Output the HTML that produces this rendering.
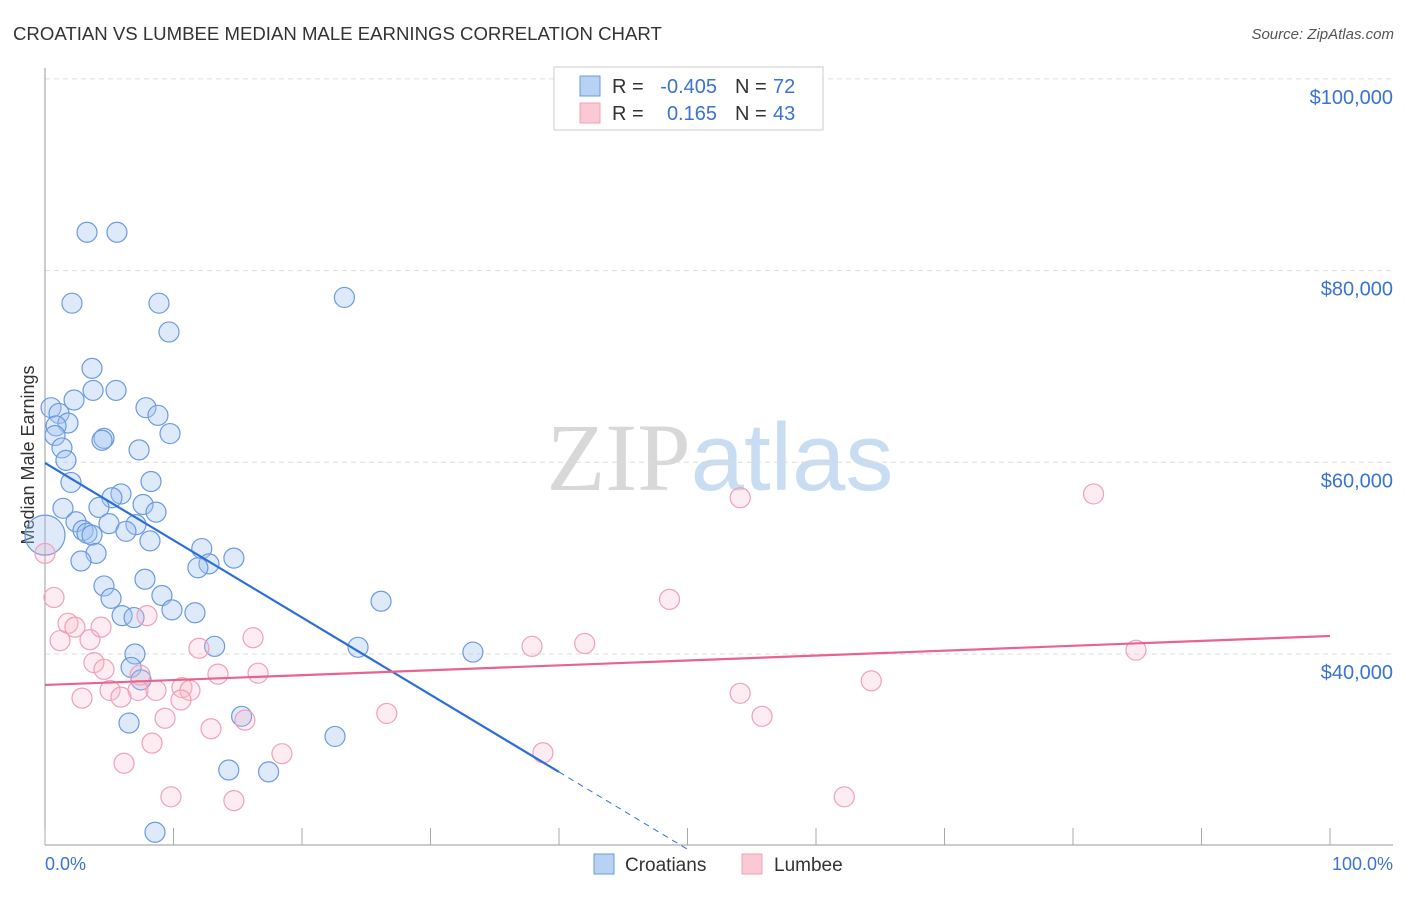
<!DOCTYPE html>
<html><head><meta charset="utf-8"><style>
body{margin:0;background:#fff;font-family:"Liberation Sans",sans-serif}
svg text{font-family:"Liberation Sans",sans-serif}
</style></head><body>
<svg id="chart" width="1406" height="892" xmlns="http://www.w3.org/2000/svg">
<text x="13" y="40" font-size="18.6" fill="#333">CROATIAN VS LUMBEE MEDIAN MALE EARNINGS CORRELATION CHART</text>
<text x="1394" y="39" font-size="15" fill="#555" text-anchor="end" font-style="italic">Source: ZipAtlas.com</text>
<text x="720" y="490" font-size="96" text-anchor="middle"><tspan fill="#d8d8d8" font-family="Liberation Serif">ZIP</tspan><tspan fill="#c8dcf2">atlas</tspan></text>
<text transform="translate(34,455) rotate(-90)" font-size="18" fill="#333" text-anchor="middle">Median Male Earnings</text>
<g id="grid"></g><g id="axes"></g><g id="pts"></g><g id="trends"></g>
<g>
<rect x="554" y="67" width="269" height="63" fill="#fff" stroke="#ccc"/>
<rect x="580" y="76" width="20" height="20" fill="#b8d2f4" stroke="#6a9ae0"/>
<rect x="580" y="103" width="20" height="20" fill="#fbc8d6" stroke="#f0a0b8"/>
<text x="612" y="93" font-size="20" fill="#333">R =</text>
<text x="717" y="93" font-size="20" fill="#3a73d0" text-anchor="end">-0.405</text>
<text x="735" y="93" font-size="20" fill="#333">N =</text>
<text x="773" y="93" font-size="20" fill="#3a73d0">72</text>
<text x="612" y="120" font-size="20" fill="#333">R =</text>
<text x="717" y="120" font-size="20" fill="#3a73d0" text-anchor="end">0.165</text>
<text x="735" y="120" font-size="20" fill="#333">N =</text>
<text x="773" y="120" font-size="20" fill="#3a73d0">43</text>
</g>
<g>
<rect x="594" y="854" width="20" height="20" fill="#b8d2f4" stroke="#6a9ae0"/>
<text x="625" y="871" font-size="19" fill="#333">Croatians</text>
<rect x="742" y="854" width="20" height="20" fill="#fbc8d6" stroke="#f0a0b8"/>
<text x="774" y="871" font-size="19" fill="#333">Lumbee</text>
</g>
<text x="45" y="870" font-size="18" fill="#3a73d0">0.0%</text>
<text x="1393" y="870" font-size="18" fill="#3a73d0" text-anchor="end">100.0%</text>
</svg>
<script>
const yTicks=[40000,60000,80000,100000];
const yTickLabels=["$40,000","$60,000","$80,000","$100,000"];
const xTicks=[0,10,20,30,40,50,60,70,80,90,100];
const croatX=[3.27,5.6,2.1,8.87,23.3,9.65,3.66,3.74,5.53,2.26,0.47,1.09,7.86,8.79,1.79,0.86,0.78,9.73,4.59,4.44,1.32,7.32,1.63,2.02,8.25,5.91,5.21,4.2,7.63,1.4,8.64,2.41,4.98,7.08,2.96,3.27,3.66,6.3,8.17,3.97,12.2,14.7,2.8,12.76,11.9,7.78,4.59,5.14,9.1,26.15,9.88,11.67,6.0,6.93,13.2,24.36,33.3,7.0,6.7,7.47,6.54,15.3,22.57,14.3,17.4,8.56,0];
const croatY=[84.0,84.0,76.6,76.6,77.2,73.6,69.8,67.5,67.5,66.5,65.7,65.1,65.7,64.9,64.1,63.8,62.8,63.0,62.5,62.3,61.5,61.3,60.2,57.9,58.0,56.7,56.3,55.3,55.6,55.2,54.8,53.8,53.6,53.5,52.9,52.6,52.4,52.8,51.8,50.5,51.0,50.0,49.7,49.4,49.0,47.8,47.1,45.8,46.1,45.5,44.6,44.3,44.0,43.8,40.8,40.7,40.2,40.0,38.6,37.3,32.8,33.5,31.4,27.9,27.7,21.4,52.4];
const croatR=croatY.map((_,i)=>i===croatY.length-1?20:10);
const lumX=[0,0.7,1.79,2.33,3.5,1.17,4.36,3.81,4.59,2.88,5.06,5.91,7.24,8.64,9.34,6.15,8.33,9.8,7.4,7.94,10.66,11.28,10.58,11.98,13.46,16.58,16.19,12.92,15.56,14.7,18.44,26.6,38.75,37.9,42.0,48.6,54.1,54.1,55.8,64.3,62.2,81.6,84.9];
const lumY=[50.5,45.9,43.2,42.8,41.5,41.4,42.8,39.1,38.4,35.4,36.2,35.5,36.2,36.2,33.3,28.6,30.7,25.1,37.8,44.0,36.5,36.2,35.2,40.6,37.9,38.0,41.7,32.2,33.1,24.7,29.6,33.8,29.7,40.8,41.1,45.7,56.3,35.9,33.5,37.2,25.1,56.7,40.4];
const croatTrend=[59.93,-0.806];
const lumTrend=[36.77,0.0511];
const NS="http://www.w3.org/2000/svg";
const xs=p=>45+p*12.85;
const ys=k=>654-(k-40)/0.10433;
function mk(tag,attrs,parent){const e=document.createElementNS(NS,tag);for(const k in attrs)e.setAttribute(k,attrs[k]);document.getElementById(parent).appendChild(e);return e;}
yTicks.forEach((v,i)=>{
 const y=ys(v/1000);
 const l=mk('line',{x1:45,x2:1393,y1:y,y2:y,stroke:'#ddd','stroke-dasharray':'5,4'},'grid');
 
 
 const t=mk('text',{x:1393,y:y+25,'font-size':20,fill:'#3a73d0','text-anchor':'end'},'grid');
 t.textContent=yTickLabels[i];
 
 
});
const ax=mk('line',{x1:45,x2:45,y1:68,y2:845,stroke:'#999'},'axes');


const bx=mk('line',{x1:45,x2:1393,y1:845,y2:845,stroke:'#999'},'axes');


xTicks.forEach(p=>{
 const t=mk('line',{x1:xs(p),x2:xs(p),y1:828,y2:845,stroke:'#aaa'},'axes');
 
 
});
croatX.forEach((x,i)=>{
 const c=mk('circle',{cx:xs(x),cy:ys(croatY[i]),r:croatR[i],fill:'rgba(160,196,240,0.35)',stroke:'#6a9ae0','stroke-width':1.2},'pts');
 
 
});
lumX.forEach((x,i)=>{
 const c=mk('circle',{cx:xs(x),cy:ys(lumY[i]),r:10,fill:'rgba(248,180,200,0.25)',stroke:'#f0a0b8','stroke-width':1.2},'pts');
 
 
});
const cf=p=>croatTrend[0]+croatTrend[1]*p;
const l1=mk('line',{x1:xs(0),y1:ys(cf(0)),x2:xs(40),y2:ys(cf(40)),stroke:'#2a6fd6','stroke-width':2.2},'trends');


const l2=mk('line',{x1:xs(40),y1:ys(cf(40)),x2:xs(50),y2:ys(cf(50)),stroke:'#2a6fd6','stroke-width':1,'stroke-dasharray':'6,5'},'trends');


const lf=p=>lumTrend[0]+lumTrend[1]*p;
const l3=mk('line',{x1:xs(0),y1:ys(lf(0)),x2:xs(100),y2:ys(lf(100)),stroke:'#e8648e','stroke-width':2.2},'trends');


</script>
</body></html>
